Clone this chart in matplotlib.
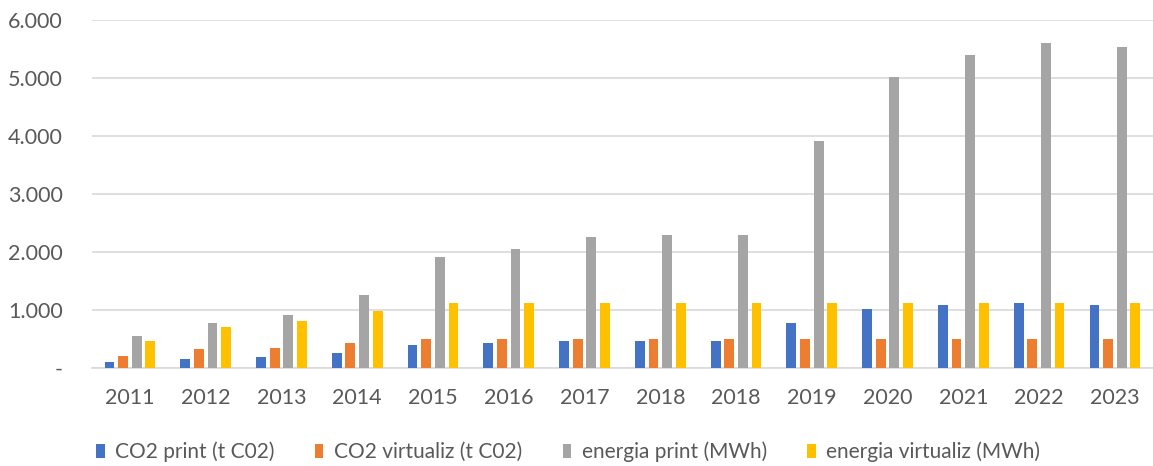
import numpy as np
import matplotlib
matplotlib.use("Agg")
import matplotlib.pyplot as plt
from matplotlib.ticker import FuncFormatter, MultipleLocator

plt.rcParams['font.family'] = ['Lato', 'DejaVu Sans']

years = ["2011", "2012", "2013", "2014", "2015", "2016", "2017",
         "2018", "2018", "2019", "2020", "2021", "2022", "2023"]

co2_print = [110, 155, 190, 258, 396, 430, 465, 465, 465, 775, 1016, 1085, 1120, 1085]
co2_virt = [217, 327, 355, 430, 500, 500, 500, 500, 500, 500, 500, 500, 500, 500]
en_print = [562, 775, 913, 1257, 1912, 2050, 2257, 2291, 2291, 3910, 5013, 5397, 5604, 5535]
en_virt = [465, 706, 810, 982, 1120, 1120, 1120, 1120, 1120, 1120, 1120, 1120, 1120, 1120]

series = [co2_print, co2_virt, en_print, en_virt]
labels = ["CO2 print (t C02)", "CO2 virtualiz (t C02)",
          "energia print (MWh)", "energia virtualiz (MWh)"]
colors = ["#4472C4", "#ED7D31", "#A5A5A5", "#FFC000"]

fig = plt.figure(figsize=(11.53, 4.66), dpi=100)
ax = fig.add_axes([0.0798, 0.210, 0.92, 0.747])

x = np.arange(len(years))
step = 0.18
width = 0.13
for i, (vals, lab, col) in enumerate(zip(series, labels, colors)):
    ax.bar(x + (i - 1.5) * step, vals, width, color=col, label=lab, zorder=3)

ax.set_xlim(-0.5, len(years) - 0.5)
ax.set_ylim(0, 6000)
ax.yaxis.set_major_locator(MultipleLocator(1000))
ax.yaxis.set_major_formatter(FuncFormatter(
    lambda v, p: '-' if v == 0 else f'{v:,.0f}'.replace(',', '.')))
ax.set_xticks(x)
ax.set_xticklabels(years)

ax.grid(axis='y', color='#d9d9d9', linewidth=1.2, zorder=0)
for s in ['top', 'right', 'left']:
    ax.spines[s].set_visible(False)
ax.spines['bottom'].set_color('#d9d9d9')
ax.spines['bottom'].set_linewidth(1.2)
ax.tick_params(axis='both', length=0, labelsize=15.5, colors='#595959')
ax.tick_params(axis='y', pad=21)
ax.tick_params(axis='x', pad=14)

# legend squares are small in the original, keep the handles short
fig.legend(loc='center left', bbox_to_anchor=(0.0835, 0.030), ncol=4, frameon=False,
           fontsize=15, handlelength=0.4, handleheight=0.6, handletextpad=0.5,
           columnspacing=1.95, borderpad=0, borderaxespad=0, labelcolor='#595959')

fig.savefig("out.png", dpi=100)
